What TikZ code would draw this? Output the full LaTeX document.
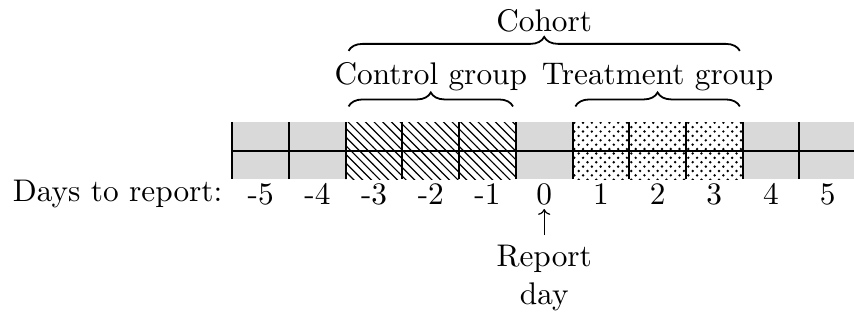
\documentclass[tikz,border=0pt]{standalone}
\usepackage{fontspec}
\setmainfont{lmroman10-regular.otf}
\usetikzlibrary{patterns,decorations.pathreplacing,arrows.meta}
\pgfdeclarepatternformonly{bignwlines}{\pgfqpoint{-1pt}{-1pt}}{\pgfqpoint{5.8pt}{5.8pt}}{\pgfqpoint{4.35pt}{4.35pt}}%
{\pgfsetlinewidth{0.6pt}\pgfpathmoveto{\pgfqpoint{0pt}{4.35pt}}\pgfpathlineto{\pgfqpoint{4.45pt}{-0.1pt}}\pgfusepath{stroke}}
\pgfdeclarepatternformonly{bigxdots}{\pgfqpoint{-1pt}{-1pt}}{\pgfqpoint{3.4pt}{3.4pt}}{\pgfqpoint{4.4pt}{4.4pt}}%
{\pgfpathcircle{\pgfqpoint{0pt}{0pt}}{.68pt}\pgfpathcircle{\pgfqpoint{2.2pt}{2.2pt}}{.68pt}\pgfusepath{fill}}
\begin{document}
\begin{tikzpicture}[
  every node/.style={inner sep=0pt, font=\fontsize{15.7}{19.2}\selectfont},
  gridline/.style={line width=1pt},
  bracestyle/.style={decorate, decoration={brace, amplitude=7pt}, line width=0.9pt},
  daylabel/.style={anchor=base},
  grayfill/.style={fill=black!15},
]
\useasboundingbox (-9.598,-2.487) rectangle (5.464,3.157);
\begin{scope}
  \clip (-9.598,-2.487) rectangle (5.464,3.157);
  \fill[grayfill] (-5.5,0) rectangle (5.5,1);
  \fill[white] (-3.5,0) rectangle (-0.5,1);
  \fill[pattern=bignwlines] (-3.5,0) rectangle (-0.5,1);
  \fill[white] (0.5,0) rectangle (3.5,1);
  \fill[pattern=bigxdots] (0.5,0) rectangle (3.5,1);
  \draw[gridline] (-5.5,0.5) -- (5.5,0.5);
  \foreach \x in {-5.5,-4.5,-3.5,-2.5,-1.5,-0.5,0.5,1.5,2.5,3.5,4.5,5.5}
    \draw[gridline] (\x,0) -- (\x,1);
\end{scope}

\foreach \d [count=\i] in {-5,...,5}
  \node[daylabel] (d\i) at (\d,-0.445) {\d};
\node[anchor=base east] (dtr) at (-5.67,-0.39) {Days to report:};

\node[anchor=base] (rep) at (0,-1.543) {Report};
\node[anchor=base] (repday) at (0,-2.222) {day};
\draw[->, line width=0.6pt, shorten <=0.17cm, shorten >=0.065cm] (rep.north) -- (d6.south);

\coordinate (cgL) at (-3.45,1.28);
\coordinate (cgR) at (-0.55,1.28);
\coordinate (tgL) at (0.55,1.28);
\coordinate (tgR) at (3.45,1.28);
\coordinate (coL) at (-3.45,2.26);
\coordinate (coR) at (3.45,2.26);
\draw[bracestyle] (cgL) -- (cgR);
\draw[bracestyle] (tgL) -- (tgR);
\draw[bracestyle] (coL) -- (coR);

\node[anchor=base] (ctrl) at (-2,1.658) {Control group};
\node[anchor=base] (trt) at (2,1.658) {Treatment group};
\node[anchor=base] (coh) at (0,2.60) {Cohort};
\end{tikzpicture}
\end{document}
